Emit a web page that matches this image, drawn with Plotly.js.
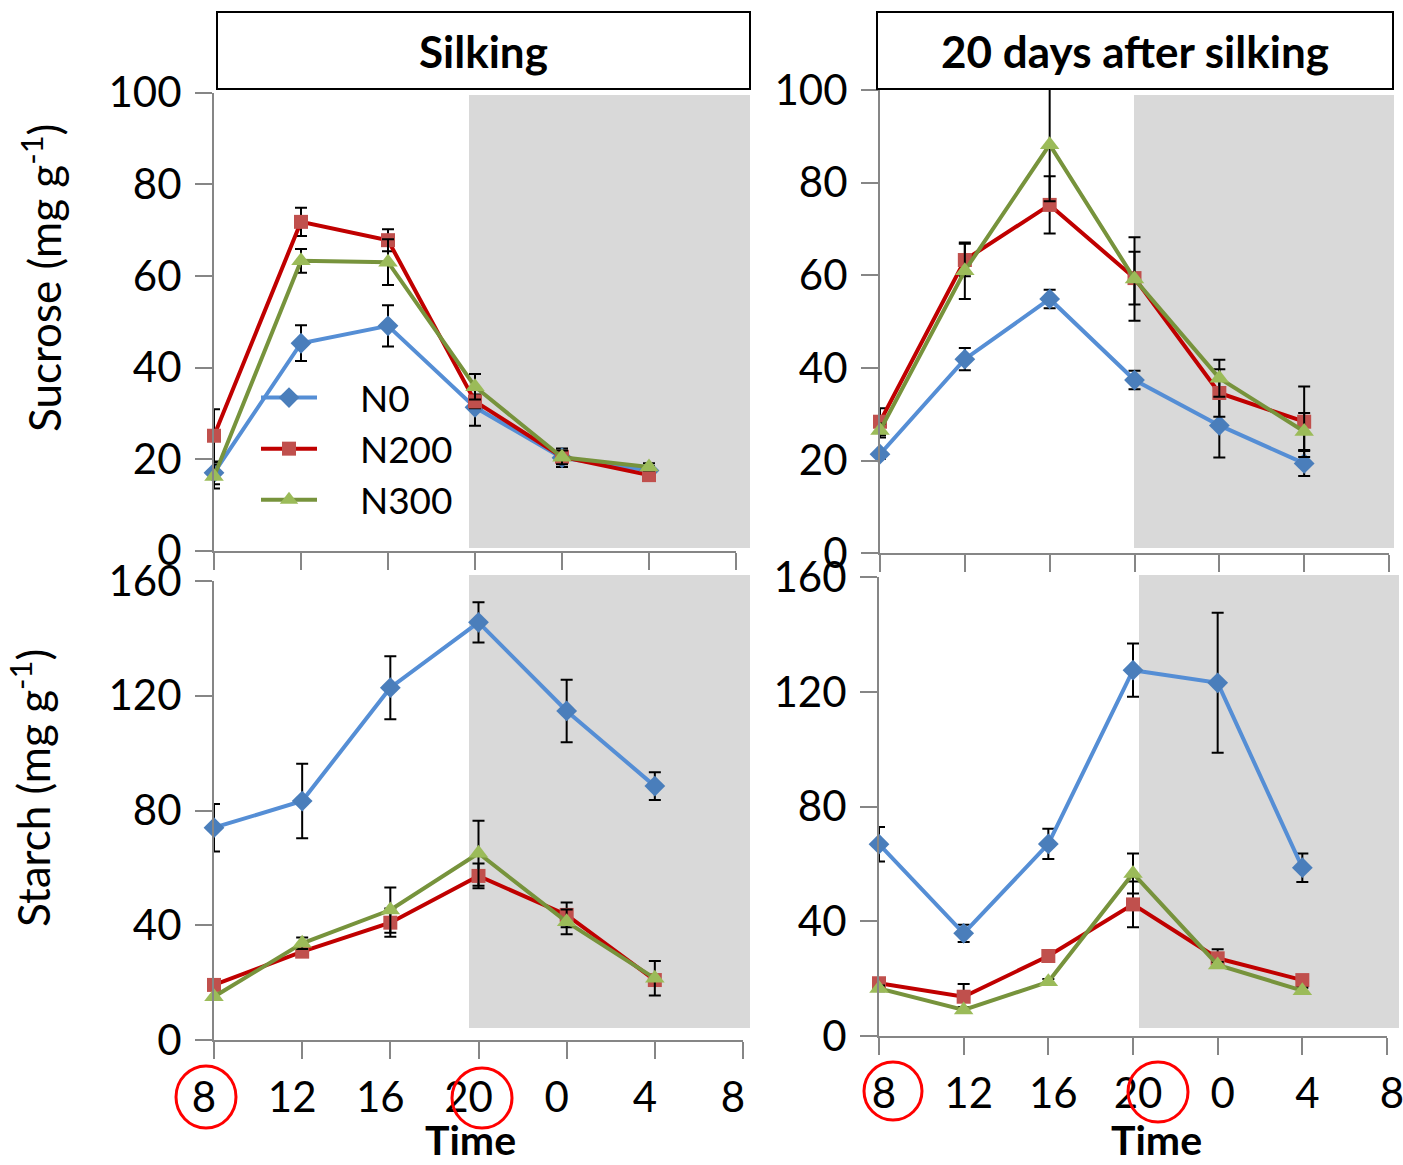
<!DOCTYPE html>
<html>
<head>
<meta charset="utf-8">
<script src="https://cdn.plot.ly/plotly-3.0.1.min.js"></script>
<style>html,body{margin:0;padding:0;background:#fff;}#chart{width:1403px;height:1165px;}</style>
</head>
<body>
<div id="chart"></div>
<script>
// ---- data ----
const timeIndex = [0, 1, 2, 3, 4, 5];
const tickValues = [0, 1, 2, 3, 4, 5, 6];
const tickLabels = ['8', '12', '16', '20', '0', '4', '8'];
const seriesNames = ['N0', 'N200', 'N300'];

// Sucrose, silking
const sucSilkN0 = [17.0, 45.3, 49.1, 31.3, 20.3, 17.5];
const sucSilkN0Err = [2.5, 3.9, 4.5, 4.0, 2.0, 1.0];
const sucSilkN200 = [25.1, 71.8, 67.8, 32.6, 20.5, 16.5];
const sucSilkN200Err = [5.8, 3.1, 2.4, 1.5, 1.0, 0.8];
const sucSilkN300 = [16.2, 63.3, 63.0, 35.8, 20.4, 18.3];
const sucSilkN300Err = [2.6, 2.6, 5.0, 2.8, 1.5, 0.8];

// Sucrose, 20 days after silking
const suc20N0 = [21.4, 41.9, 54.9, 37.4, 27.6, 19.4];
const suc20N0Err = [1.0, 2.4, 2.0, 2.0, 6.9, 2.7];
const suc20N200 = [28.4, 63.3, 75.2, 59.4, 34.6, 28.4];
const suc20N200Err = [2.9, 3.5, 6.2, 5.7, 5.1, 7.6];
const suc20N300 = [26.5, 61.0, 88.2, 59.2, 37.8, 26.3];
const suc20N300Err = [1.5, 6.1, 12.2, 9.0, 4.0, 4.0];

// Starch, silking
const stSilkN0 = [74.0, 83.3, 122.8, 145.6, 114.7, 88.5];
const stSilkN0Err = [8.3, 13.0, 11.0, 7.0, 10.9, 4.8];
const stSilkN200 = [19.2, 30.8, 40.9, 57.2, 43.6, 20.9];
const stSilkN200Err = [1.0, 1.0, 4.9, 4.3, 4.3, 1.5];
const stSilkN300 = [15.1, 33.7, 45.3, 65.1, 41.2, 21.5];
const stSilkN300Err = [1.0, 2.0, 7.9, 11.3, 4.3, 6.0];

// Starch, 20 days after silking
const st20N0 = [66.9, 35.8, 67.0, 127.6, 123.2, 58.7];
const st20N0Err = [6.0, 3.0, 5.3, 9.3, 24.4, 5.0];
const st20N200 = [18.4, 13.7, 27.9, 45.9, 27.1, 19.5];
const st20N200Err = [1.0, 4.4, 1.0, 8.0, 3.2, 1.0];
const st20N300 = [16.6, 9.1, 18.9, 56.7, 24.8, 15.8];
const st20N300Err = [1.0, 1.0, 1.0, 7.0, 1.0, 1.0];

// ---- styles ----
const FONT = 'Lato, "Open Sans", sans-serif';
const lineColors = ['#558ED5', '#C00000', '#77933C'];
const markerColors = ['#4A7EBB', '#C0504D', '#9BBB59'];
const markerSymbols = ['diamond', 'square', 'triangle-up'];
const markerSizes = [16, 14, 17];
const PAD = '\u00A0\u00A0\u00A0\u00A0';

function mk(idx, y, err, xa, ya, showLeg) {
  return {
    type: 'scatter', mode: 'lines+markers',
    x: timeIndex, y: y, name: PAD + seriesNames[idx],
    xaxis: xa, yaxis: ya, showlegend: showLeg,
    line: {color: lineColors[idx], width: 4},
    marker: {symbol: markerSymbols[idx], color: markerColors[idx], size: markerSizes[idx], line: {width: 0}},
    error_y: {type: 'data', array: err, visible: true, color: '#000', thickness: 2, width: 6},
    cliponaxis: false, hoverinfo: 'skip'
  };
}

const data = [
  mk(0, sucSilkN0, sucSilkN0Err, 'x', 'y', true),
  mk(1, sucSilkN200, sucSilkN200Err, 'x', 'y', true),
  mk(2, sucSilkN300, sucSilkN300Err, 'x', 'y', true),
  mk(0, suc20N0, suc20N0Err, 'x2', 'y2', false),
  mk(1, suc20N200, suc20N200Err, 'x2', 'y2', false),
  mk(2, suc20N300, suc20N300Err, 'x2', 'y2', false),
  mk(0, stSilkN0, stSilkN0Err, 'x3', 'y3', false),
  mk(1, stSilkN200, stSilkN200Err, 'x3', 'y3', false),
  mk(2, stSilkN300, stSilkN300Err, 'x3', 'y3', false),
  mk(0, st20N0, st20N0Err, 'x4', 'y4', false),
  mk(1, st20N200, st20N200Err, 'x4', 'y4', false),
  mk(2, st20N300, st20N300Err, 'x4', 'y4', false)
];

const W = 1403, H = 1165;
const px = v => v / W;
const py = v => (H - v) / H;

function xax(dom, anchor, showLabels, shift) {
  return {
    domain: dom, anchor: anchor, range: [0, 6], fixedrange: true,
    tickmode: 'array', tickvals: tickValues, ticktext: tickLabels,
    showticklabels: showLabels, ticks: 'outside', ticklen: 17, tickwidth: 2, tickcolor: '#868686',
    showline: true, linecolor: '#868686', linewidth: 2, showgrid: false, zeroline: false,
    tickfont: {family: FONT, size: 42, color: '#000'}, ticklabelshift: shift, ticklabelstandoff: 3,
    ticklabeloverflow: 'allow'
  };
}
function yax(dom, anchor, maxV, dtick) {
  return {
    domain: dom, anchor: anchor, range: [0, maxV], fixedrange: true,
    tickmode: 'linear', tick0: 0, dtick: dtick,
    ticks: 'outside', ticklen: 17, tickwidth: 2, tickcolor: '#868686',
    showline: true, linecolor: '#868686', linewidth: 2, showgrid: false, zeroline: false,
    tickfont: {family: FONT, size: 42, color: '#000'}, ticklabelstandoff: 5,
    ticklabeloverflow: 'allow'
  };
}

const shade = (x0, x1, y0, y1) => ({
  type: 'rect', xref: 'paper', yref: 'paper', layer: 'below',
  x0: px(x0), x1: px(x1), y0: py(y1), y1: py(y0),
  fillcolor: '#D9D9D9', line: {width: 0}
});
const box = (x0, x1, y0, y1) => ({
  type: 'rect', xref: 'paper', yref: 'paper',
  x0: px(x0), x1: px(x1), y0: py(y1), y1: py(y0),
  fillcolor: 'rgba(0,0,0,0)', line: {width: 2, color: '#000'}
});
const ring = (x0, x1, y0, y1) => ({
  type: 'circle', xref: 'paper', yref: 'paper',
  x0: px(x0), x1: px(x1), y0: py(y1), y1: py(y0),
  line: {color: '#FF0000', width: 3}, fillcolor: 'rgba(0,0,0,0)'
});

const layout = {
  width: W, height: H,
  margin: {l: 0, r: 0, t: 0, b: 0},
  paper_bgcolor: '#fff', plot_bgcolor: 'rgba(0,0,0,0)',
  font: {family: FONT, color: '#000'},
  xaxis: xax([px(214), px(736)], 'y', false, 0),
  yaxis: yax([py(550.7), py(92.7)], 'x', 100, 20),
  xaxis2: xax([px(880), px(1389)], 'y2', false, 0),
  yaxis2: yax([py(553.3), py(90)], 'x2', 100, 20),
  xaxis3: xax([px(214), px(743)], 'y3', true, -10),
  yaxis3: yax([py(1040), py(581)], 'x3', 160, 40),
  xaxis4: xax([px(879), px(1387)], 'y4', true, 5),
  yaxis4: yax([py(1036), py(577.3)], 'x4', 160, 40),
  showlegend: true,
  legend: {
    x: px(256), y: py(367), xanchor: 'left', yanchor: 'top',
    bgcolor: 'rgba(0,0,0,0)', borderwidth: 0,
    font: {family: FONT, size: 37, color: '#000'},
    itemwidth: 56, tracegroupgap: 0
  },
  shapes: [
    shade(469, 750, 95, 548),
    shade(1134, 1394, 95, 548),
    shade(469, 750, 575, 1028),
    shade(1139, 1399, 575, 1028),
    box(217, 750, 12, 89),
    box(877, 1393, 12, 89),
    ring(176, 236, 1066, 1128),
    ring(452, 512, 1068, 1128),
    ring(864, 922, 1062, 1120),
    ring(1128, 1188, 1062, 1122)
  ],
  annotations: [
    {text: '<b>Silking</b>', xref: 'paper', yref: 'paper', x: px(483), y: py(51), showarrow: false,
     font: {family: FONT, size: 44}, xanchor: 'center', yanchor: 'middle'},
    {text: '<b>20 days after silking</b>', xref: 'paper', yref: 'paper', x: px(1135), y: py(51), showarrow: false,
     font: {family: FONT, size: 44}, xanchor: 'center', yanchor: 'middle'},
    {text: 'Sucrose (mg g<sup>-1</sup>)', xref: 'paper', yref: 'paper', x: px(42), y: py(278), showarrow: false,
     textangle: -90, font: {family: FONT, size: 44}, xanchor: 'center', yanchor: 'middle'},
    {text: 'Starch (mg g<sup>-1</sup>)', xref: 'paper', yref: 'paper', x: px(30), y: py(788), showarrow: false,
     textangle: -90, font: {family: FONT, size: 44}, xanchor: 'center', yanchor: 'middle'},
    {text: '<b>Time</b>', xref: 'paper', yref: 'paper', x: px(470), y: py(1139), showarrow: false,
     font: {family: FONT, size: 41}, xanchor: 'center', yanchor: 'middle'},
    {text: '<b>Time</b>', xref: 'paper', yref: 'paper', x: px(1156), y: py(1139), showarrow: false,
     font: {family: FONT, size: 41}, xanchor: 'center', yanchor: 'middle'}
  ]
};

Plotly.newPlot('chart', data, layout, {staticPlot: true, displayModeBar: false});
</script>
</body>
</html>
